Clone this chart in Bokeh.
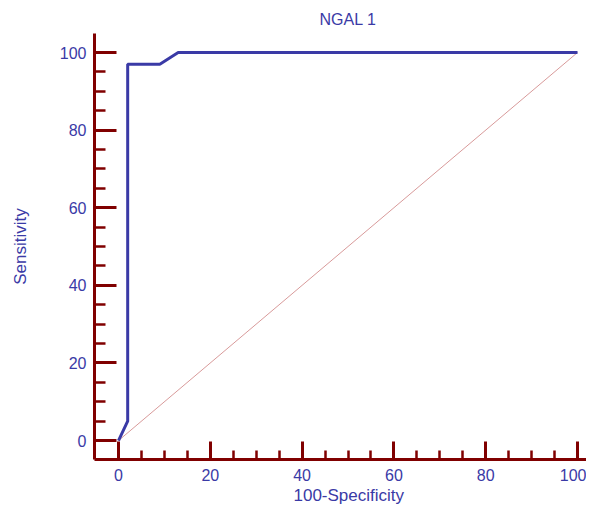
from bokeh.plotting import figure
from bokeh.models import Range1d, FixedTicker, Title
from bokeh.embed import file_html
from bokeh.resources import INLINE

# ROC curve data
fpr = [0, 2, 2, 9, 13, 100]
tpr = [0, 5, 97, 97, 100, 100]
ref_x = [0, 100]
ref_y = [0, 100]
major_ticks = [0, 20, 40, 60, 80, 100]
minor_ticks = [5, 10, 15, 25, 30, 35, 45, 50, 55, 65, 70, 75, 85, 90, 95]
title_text = "NGAL 1"
x_label = "100-Specificity"
y_label = "Sensitivity"

BLUE = "#3a3aa6"
RED = "#800000"
FONT = "Liberation Sans"

p = figure(width=586, height=504, output_backend="svg", toolbar_location=None,
           x_range=Range1d(-5.23, 101.96), y_range=Range1d(-4.88, 104.9),
           min_border_left=94, min_border_right=0, min_border_top=33, min_border_bottom=44)
p.title = Title(text=title_text, align="left", offset=225, text_color=BLUE, text_font=FONT,
                text_font_size="16px", text_font_style="normal", standoff=11)
p.outline_line_color = None
p.grid.visible = False
p.background_fill_color = "white"
p.border_fill_color = "white"

p.line(ref_x, ref_y, line_color="#d89a9a", line_width=1)
p.line(fpr, tpr, line_color=BLUE, line_width=3)

for ax in (p.xaxis[0], p.yaxis[0]):
    ax.ticker = FixedTicker(ticks=major_ticks, minor_ticks=minor_ticks)
    ax.axis_line_color = RED
    ax.axis_line_width = 3
    ax.major_tick_line_color = RED
    ax.major_tick_line_width = 3
    ax.minor_tick_line_color = RED
    ax.minor_tick_line_width = 2.5
    ax.major_tick_out = 0
    ax.minor_tick_out = 0
    ax.major_label_text_color = BLUE
    ax.major_label_text_font = FONT
    ax.major_label_text_font_size = "16px"
    ax.axis_label_text_color = BLUE
    ax.axis_label_text_font = FONT
    ax.axis_label_text_font_size = "17px"
    ax.axis_label_text_font_style = "normal"

p.yaxis.axis_label = y_label
p.xaxis.major_tick_in = 18
p.xaxis.minor_tick_in = 9
p.yaxis.major_tick_in = 22
p.yaxis.minor_tick_in = 11
p.xaxis.major_label_standoff = 9
p.yaxis.major_label_standoff = 8
p.yaxis.axis_label_standoff = 27

p.add_layout(Title(text=x_label, align="left", offset=199, text_color=BLUE, text_font=FONT,
                   text_font_size="17px", text_font_style="normal", standoff=0), "below")

open("out.html", "w").write(file_html(p, INLINE))
